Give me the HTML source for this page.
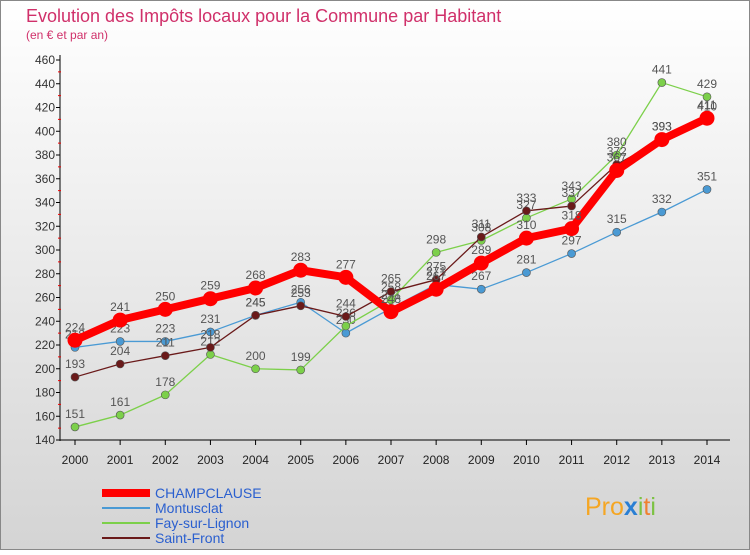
<!DOCTYPE html>
<html><head><meta charset="utf-8">
<style>
body{margin:0;width:750px;height:550px;overflow:hidden;font-family:"Liberation Sans",sans-serif}
</style></head>
<body>
<svg id="c" width="750" height="550" xmlns="http://www.w3.org/2000/svg">
<defs><linearGradient id="bg" x1="0" y1="0" x2="0" y2="1"><stop offset="0" stop-color="#ffffff"/><stop offset="1" stop-color="#d4d4d4"/></linearGradient></defs>
<rect x="0.5" y="0.5" width="749" height="549" fill="url(#bg)" stroke="#888"/>
<text x="26" y="22" font-size="18" fill="#d0306a">Evolution des Impôts locaux pour la Commune par Habitant</text>
<text x="26" y="39" font-size="12" fill="#d0306a">(en € et par an)</text>
<g id="axes"></g><g id="series"></g><g id="legend"></g>
<text x="585" y="515" font-size="25" fill="#f5a623">Pro<tspan fill="#2a7fd4" font-weight="bold">x</tspan><tspan fill="#7cc243">i</tspan><tspan fill="#f08030">t</tspan><tspan fill="#7cc243">i</tspan></text>
</svg>
<script>
const years=[2000,2001,2002,2003,2004,2005,2006,2007,2008,2009,2010,2011,2012,2013,2014];
const champclause=[224,241,250,259,268,283,277,248,267,289,310,318,367,393,411];
const montusclat=[218,223,223,231,245,256,230,251,271,267,281,297,315,332,351];
const fay=[151,161,178,212,200,199,236,258,298,308,327,343,380,441,429];
const saintFront=[193,204,211,218,245,253,244,265,275,311,333,337,372,393,410];
const yTicks=[140,160,180,200,220,240,260,280,300,320,340,360,380,400,420,440,460];
const NS="http://www.w3.org/2000/svg";
const X=i=>75+i*(707-75)/(years.length-1);
const Y=v=>440-(v-140)*(380/320);
function mk(t,a,p){const e=document.createElementNS(NS,t);for(const k in a)e.setAttribute(k,a[k]);p.appendChild(e);return e;}
const ax=document.getElementById('axes');
let l=mk('line',{x1:60,y1:55,x2:60,y2:441,stroke:'#000'},ax);


l=mk('line',{x1:60,y1:440,x2:730,y2:440,stroke:'#000'},ax);


yTicks.forEach(v=>{
 mk('line',{x1:56,y1:Y(v),x2:60,y2:Y(v),stroke:'#000'},ax);
 if(v<460)mk('line',{x1:58,y1:Y(v+10),x2:61,y2:Y(v+10),stroke:'#e00'},ax);
 const t=mk('text',{x:55,y:Y(v)+4,'font-size':12,'text-anchor':'end',fill:'#333'},ax);t.textContent=v;
 
 
});
years.forEach((y,i)=>{
 mk('line',{x1:X(i),y1:440,x2:X(i),y2:445,stroke:'#000'},ax);
 const t=mk('text',{x:X(i),y:464,'font-size':12,'text-anchor':'middle',fill:'#222'},ax);t.textContent=y;
 
 
});
const sg=document.getElementById('series');
const defs=[
 {d:montusclat,c:'#4a9ad4',w:1.3,r:4,n:'montusclat'},
 {d:fay,c:'#7cd04a',w:1.3,r:4,n:'fay-sur-lignon'},
 {d:saintFront,c:'#6a1a1a',w:1.3,r:4,n:'saint-front'},
 {d:champclause,c:'#f00',w:8,r:7,n:'champclause'}];
defs.forEach(s=>{
 const g=mk('g',{},sg);
 
 
 const p=mk('polyline',{points:s.d.map((v,i)=>X(i)+','+Y(v)).join(' '),fill:'none',stroke:s.c,'stroke-width':s.w,'stroke-linejoin':'round'},g);
 
 
 s.d.forEach((v,i)=>{
  const c=mk('circle',{cx:X(i),cy:Y(v),r:s.r,fill:s.c,stroke:s.n=='champclause'?'#f00':'#555','stroke-width':s.n=='champclause'?1:0.6},g);
  
  
  const t=mk('text',{x:X(i),y:Y(v)-9,'font-size':12,'text-anchor':'middle',fill:'#555'},g);t.textContent=v;
  
  
 });
});
const lg=document.getElementById('legend');
[['CHAMPCLAUSE','#f00',8],['Montusclat','#4a9ad4',2],['Fay-sur-Lignon','#7cd04a',2],['Saint-Front','#6a1a1a',2]].forEach((e,i)=>{
 const y=493+i*15;
 const ln=mk('line',{x1:102,y1:y,x2:150,y2:y,stroke:e[1],'stroke-width':e[2]},lg);
 
 
 const t=mk('text',{x:155,y:y+5,'font-size':14,fill:'#2a5fcf'},lg);t.textContent=e[0];
 
 
});
</script>
</body></html>
